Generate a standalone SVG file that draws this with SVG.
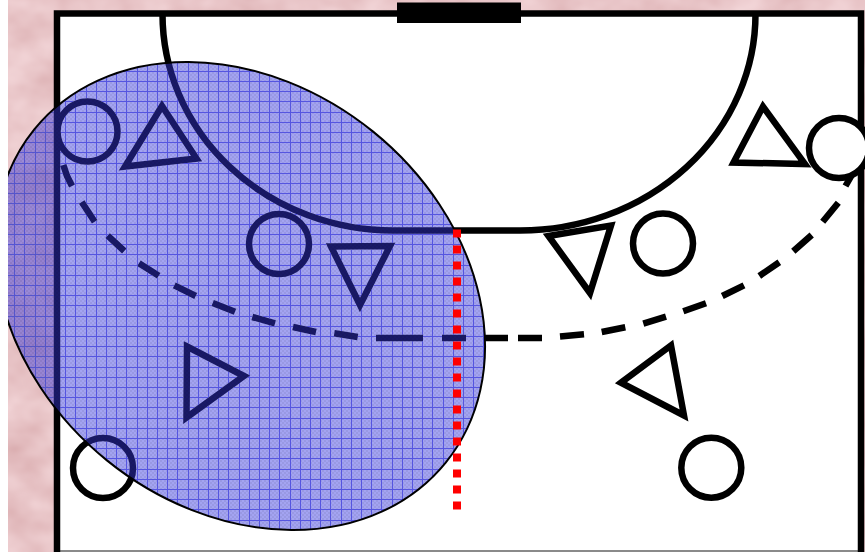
<svg xmlns="http://www.w3.org/2000/svg" width="865" height="552" viewBox="0 0 865 552">
  <style>
    .ln{fill:none;stroke:#000;stroke-width:6.500}
    .pl{fill:#fff;stroke:#000;stroke-width:6.500;stroke-miterlimit:10}
    .blend{mix-blend-mode:darken}
  </style>
  <defs>
    <filter id="marble" x="0" y="0" width="100%" height="100%" color-interpolation-filters="sRGB">
      <feTurbulence type="fractalNoise" baseFrequency="0.022 0.03" numOctaves="3" seed="7"/>
      <feColorMatrix type="matrix" values="0.12 0 0 0 0.85  0.2 0 0 0 0.67  0.2 0 0 0 0.68  0 0 0 0 1"/>
    </filter>
    <pattern id="check" width="4" height="4" patternUnits="userSpaceOnUse">
      <rect width="2" height="2" fill="#000" fill-opacity=".06"/>
      <rect x="2" y="2" width="2" height="2" fill="#000" fill-opacity=".06"/>
    </pattern>
    <pattern id="grid" x="157" y="336" width="51" height="51" patternUnits="userSpaceOnUse">
      <rect width="51" height="51" fill="#fff"/>
      <path d="M0.5 0V51M10.500 0V51M20.500 0V51M31.500 0V51M41.500 0V51M0 0.5H51M0 10.500H51M0 20.500H51M0 31.500H51M0 41.500H51" fill="none" stroke="#5555e0" stroke-width="1"/>
    </pattern>
    <clipPath id="page"><rect x="8" y="0" width="857" height="552"/></clipPath>
    <clipPath id="zone-shape"><ellipse transform="translate(240 296) rotate(39)" rx="264.700" ry="211.500"/></clipPath>
  </defs>

  <rect width="865" height="552" fill="#fff"/>
  <rect x="8" y="0" width="857" height="552" filter="url(#marble)"/>

  <g id="court">
    <rect x="57" y="13.500" width="804" height="545" fill="#fff"/>
    <path d="M59 551H858" stroke="#8a8a8a" stroke-width="2" fill="none"/>
    <path class="ln" d="M57 560V13.500H861V560"/>
    <path id="goal-area" class="ln" d="M162.500 14A230.500 216.500 0 0 0 393 230.500H520A235.500 216.500 0 0 0 755.500 14"/>
  </g>

  <g id="free-throw-line" class="ln">
    <path d="M63.300 165L67 176L72 186M81.700 202L94.700 221.700M107.700 235.700L124.300 251M139 263.300L158.700 275.700M174.300 285.300L195.700 296M212.700 303L235 311.700M252.300 317L275 323.300M293 327L316 332M334.300 333.300L357.700 337M376 338H423M442 338H466M485 338H508M518 338H542M560 336.500L584 334.300M601.700 332L625.300 327.300M643.300 323.700L666 316.700M683.300 311.300L706 303.300M722.300 296L744 285.300M759.300 276L779.300 262.300M793.300 251.300L811.700 235M822.700 221.700L838.300 202.700M845.500 186L853 173"/>
  </g>

  <g id="player-circle-1"><circle class="pl" cx="87.500" cy="131.500" r="30"/></g>
  <g id="player-triangle-1"><polygon class="pl" points="162,106 125,166.500 196.500,158.500"/></g>
  <g id="player-circle-2"><circle class="pl" cx="279" cy="244" r="30"/></g>
  <g id="player-triangle-2"><polygon class="pl" points="331,246.500 390,246 360,305"/></g>
  <g id="player-triangle-3"><polygon class="pl" points="187,346.500 244,376 186.500,417.500"/></g>
  <g id="player-circle-3"><circle class="pl" cx="103" cy="468" r="30"/></g>
  <g id="player-triangle-4"><polygon class="pl" points="548.500,236 611,225.500 590,293"/></g>
  <g id="player-circle-4"><circle class="pl" cx="663" cy="243.500" r="30"/></g>
  <g id="player-triangle-5"><polygon class="pl" points="621,382.700 671,345.500 684,415.500"/></g>
  <g id="player-circle-5"><circle class="pl" cx="711.300" cy="467.700" r="30"/></g>
  <g id="player-triangle-6"><polygon class="pl" points="763,106.500 733.500,162.500 805,164"/></g>
  <g id="player-circle-6"><circle class="pl" cx="839" cy="148" r="30"/></g>

  <rect id="zone-tint" x="8" width="857" height="552" clip-path="url(#zone-shape)" fill="#3737e0" fill-opacity=".46"/>
  <rect id="zone-stipple" x="8" width="857" height="552" clip-path="url(#zone-shape)" fill="url(#check)"/>
  <rect id="zone-grid" class="blend" x="8" width="857" height="552" clip-path="url(#zone-shape)" fill="url(#grid)"/>
  <g id="zone-outline" clip-path="url(#page)">
    <ellipse transform="translate(240 296) rotate(39)" rx="264.700" ry="211.500" fill="none" stroke="#000" stroke-width="2"/>
  </g>

  <g id="goal"><rect x="397" y="2.500" width="124" height="20.500" fill="#000"/></g>
  <path id="limit-line" d="M457 229.500V510" fill="none" stroke="#f00" stroke-width="8" stroke-dasharray="8 8"/>
</svg>
